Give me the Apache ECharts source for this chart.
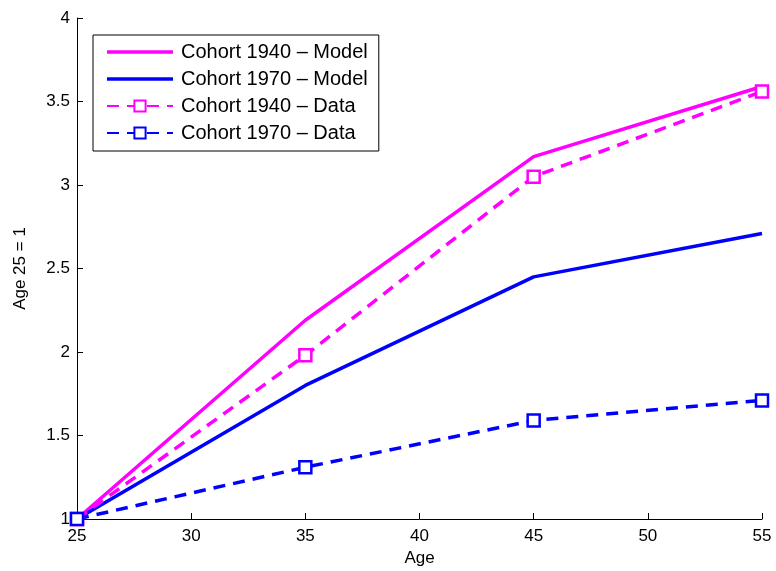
<!DOCTYPE html>
<html>
<head>
<meta charset="utf-8">
<script src="https://cdn.jsdelivr.net/npm/echarts@6/dist/echarts.min.js"></script>
<style>
  html, body { margin: 0; padding: 0; background: #fff; }
  #chart { width: 776px; height: 571px; }
</style>
</head>
<body>
<div id="chart"></div>
<script>
const ages = [25, 35, 45, 55];
const model1940 = [1, 2.19, 3.17, 3.59];
const model1970 = [1, 1.80, 2.45, 2.71];
const data1940 = [1, 1.98, 3.05, 3.56];
const data1970 = [1, 1.31, 1.59, 1.71];

const MAGENTA = "#ff00ff";
const BLUE = "#0000ff";
const font = "Liberation Sans, Arial, sans-serif";
const LINE_ICON = "path://M0,0 L66,0 L66,3.5 L0,3.5 Z";

const pairs = (ys) => ages.map((a, i) => [a, ys[i]]);

const lineSeries = (name, ys, color) => ({
  name,
  type: "line",
  data: pairs(ys),
  showSymbol: false,
  symbol: "none",
  lineStyle: { color, width: 3.5 },
  itemStyle: { color },
  animation: false,
});

const dataSeries = (name, ys, color) => ({
  name,
  type: "line",
  data: pairs(ys),
  symbol: "rect",
  symbolSize: 12,
  lineStyle: { color, width: 3.5, type: [12, 8] },
  itemStyle: { color: "#fff", borderColor: color, borderWidth: 2.5 },
  animation: false,
});

const chart = echarts.init(document.getElementById("chart"));
chart.setOption({
  backgroundColor: "#fff",
  grid: { left: 77, right: 14, top: 18, bottom: 52, containLabel: false, outerBoundsMode: "none" },
  legend: {
    left: 93,
    top: 35,
    orient: "vertical",
    backgroundColor: "#fff",
    borderColor: "#000",
    borderWidth: 1,
    padding: [7, 11, 8, 13],
    itemWidth: 66,
    itemHeight: 14,
    itemGap: 7,
    textStyle: { fontFamily: font, fontSize: 20, color: "#000", padding: [0, 0, 0, 3] },
    data: [
      { name: "Cohort 1940 – Model", icon: LINE_ICON, itemStyle: { color: MAGENTA } },
      { name: "Cohort 1970 – Model", icon: LINE_ICON, itemStyle: { color: BLUE } },
      { name: "Cohort 1940 – Data" },
      { name: "Cohort 1970 – Data" },
    ],
  },
  xAxis: {
    type: "value",
    min: 25,
    max: 55,
    interval: 5,
    name: "Age",
    nameLocation: "middle",
    nameGap: 31,
    nameTextStyle: { fontFamily: font, fontSize: 17, color: "#000" },
    axisLine: { lineStyle: { color: "#000", width: 1 } },
    axisTick: { inside: true, length: 6, lineStyle: { color: "#000" } },
    axisLabel: { fontFamily: font, fontSize: 17, color: "#000", margin: 9 },
    splitLine: { show: false },
  },
  yAxis: {
    type: "value",
    min: 1,
    max: 4,
    interval: 0.5,
    name: "Age 25 = 1",
    nameLocation: "middle",
    nameGap: 48,
    nameTextStyle: { fontFamily: font, fontSize: 17, color: "#000" },
    axisLine: { lineStyle: { color: "#000", width: 1 } },
    axisTick: { inside: true, length: 6, lineStyle: { color: "#000" } },
    axisLabel: { fontFamily: font, fontSize: 17, color: "#000", margin: 7 },
    splitLine: { show: false },
  },
  series: [
    lineSeries("Cohort 1940 – Model", model1940, MAGENTA),
    lineSeries("Cohort 1970 – Model", model1970, BLUE),
    dataSeries("Cohort 1940 – Data", data1940, MAGENTA),
    dataSeries("Cohort 1970 – Data", data1970, BLUE),
  ],
});
</script>
</body>
</html>
